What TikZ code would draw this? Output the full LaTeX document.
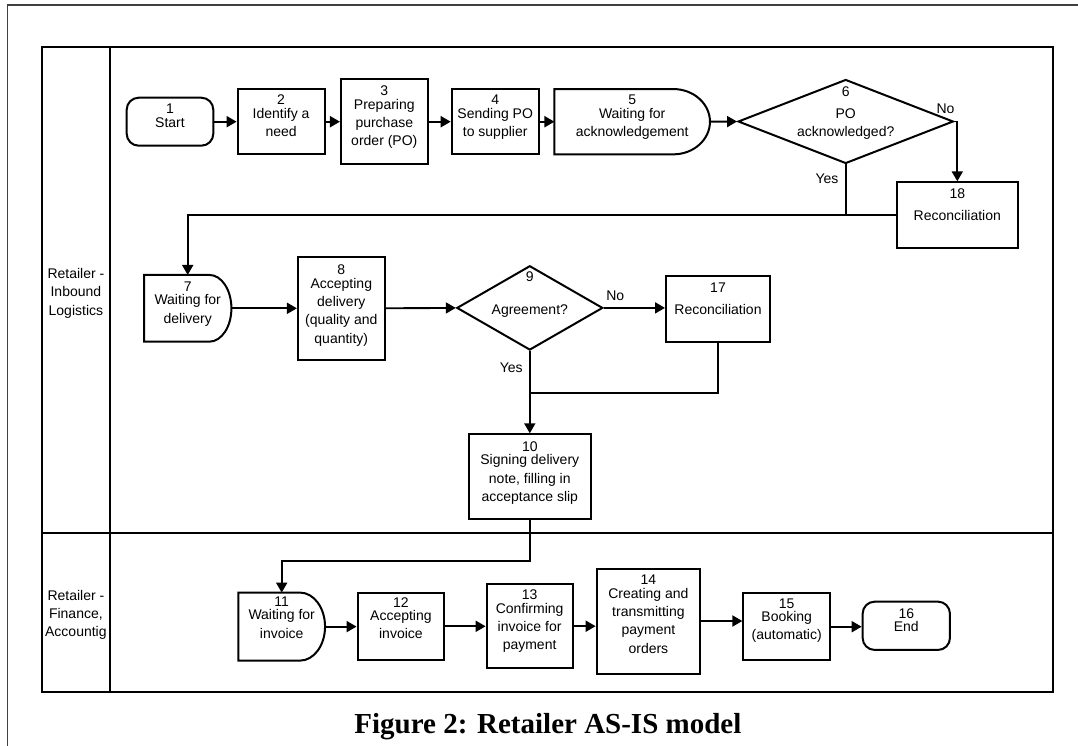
\documentclass[tikz,border=0pt]{standalone}
\usepackage{fontspec}
\setmainfont{Liberation Sans}
\newfontfamily\captionserif{Liberation Serif}
\usetikzlibrary{arrows.meta,shapes.geometric,calc}

% "wait" (delay) outline: flat left side, elliptic right end
% #1 node, #2 horizontal radius, #3 vertical radius
\newcommand{\waitshape}[3]{%
  \draw[shapeline] (#1.south west) -- (#1.north west) -- ($(#1.north east)+(-#2,0)$)
    .. controls ($(#1.north east)+({-0.4477*#2},0)$) and ($(#1.east)+(0,{-0.5523*#3})$) .. (#1.east)
    .. controls ($(#1.east)+(0,{0.5523*#3})$) and ($(#1.south east)+({-0.4477*#2},0)$) .. ($(#1.south east)+(-#2,0)$)
    -- cycle;}

\tikzset{
  every node/.style={inner sep=0pt, outer sep=1pt},
  txt/.style={font=\fontsize{14pt}{18.3pt}\selectfont, align=center},
  shapeline/.style={draw, line width=2pt},
  procbox/.style={txt, shapeline, rectangle},
  termbox/.style={txt, shapeline, rectangle, rounded corners=12pt},
  waitbox/.style={txt, rectangle, outer sep=0pt},
  decision/.style={shapeline, diamond},
  lbl/.style={font=\fontsize{14pt}{18.3pt}\selectfont, anchor=base},
  line/.style={draw, line width=1.9pt},
  conn/.style={line, -{Triangle[length=10pt,width=11pt]}},
  lane/.style={draw, line width=2pt},
}

\begin{document}
\begin{tikzpicture}[x=1pt, y=-1pt]
\useasboundingbox (0,0) rectangle (1078,746);
\fill[white] (0,0) rectangle (1078,746);

% page frame
\draw[line width=1.3pt, black!75] (7.3,746) -- (7.3,5) -- (1078,5);

% swimlanes
\draw[lane] (41.7,47) rectangle (1053.3,691.5);
\draw[lane] (110,47) -- (110,691.5);
\draw[lane] (41.7,532.5) -- (1053.3,532.5);
\node[txt] (lane1) at (75.9,293.1) {Retailer -\\Inbound\\Logistics};
\node[txt] (lane2) at (75.9,614.7) {Retailer -\\Finance,\\Accountig};

% inbound logistics lane
\node[termbox, minimum width=86.6pt, minimum height=48pt, text depth=12.1pt] (n1) at (170,121.7) {1\\[-5pt]Start};
\node[procbox, minimum width=87pt, minimum height=65.3pt, text depth=11.6pt] (n2) at (281.1,121.7) {2\\[-5pt]Identify a\\need};
\node[procbox, minimum width=86.7pt, minimum height=85.3pt, text depth=11.3pt] (n3) at (384.3,121.7) {3\\[-5pt]Preparing\\purchase\\order (PO)};
\node[procbox, minimum width=87pt, minimum height=65.3pt, text depth=11.6pt] (n4) at (495.2,121.7) {4\\[-5pt]Sending PO\\to supplier};
\node[waitbox, minimum width=155.5pt, minimum height=65.3pt, text depth=11.6pt] (n5) at (632.2,121.7) {5\\[-5pt]Waiting for\\acknowledgement};
\waitshape{n5}{36.7}{32.65}
\node[decision, minimum width=215.3pt, minimum height=84pt] (d6) at (845.7,121.5) {};
\node[txt, text depth=19.5pt] (t6) at (d6) {6\\[3.3pt]PO\\acknowledged?};
\node[procbox, minimum width=120.7pt, minimum height=66pt, text depth=21.2pt] (n18) at (957.3,215.3) {18\\[3.7pt]Reconciliation};

\node[waitbox, minimum width=87.4pt, minimum height=66.7pt, text depth=11.6pt] (n7) at (187.7,308.3) {7\\[-5pt]Waiting for\\delivery};
\waitshape{n7}{22}{33.35}
\node[procbox, minimum width=86.8pt, minimum height=103.3pt, text depth=8.2pt] (n8) at (341.3,308.3) {8\\[-5pt]Accepting\\delivery\\(quality and\\quantity)};
\node[decision, minimum width=146pt, minimum height=84.3pt] (d9) at (529.8,307.9) {};
\node[txt, text depth=29.1pt] (t9) at (d9) {9\\[15pt]Agreement?};
\node[procbox, minimum width=104pt, minimum height=66pt, text depth=19.4pt] (n17) at (718,308.7) {17\\[3.7pt]Reconciliation};
\node[procbox, minimum width=121.4pt, minimum height=85pt, text depth=10.1pt] (n10) at (529.8,476.8) {10\\[-5pt]Signing delivery\\note, filling in\\acceptance slip};

% finance lane
\node[waitbox, minimum width=86.7pt, minimum height=68pt, text depth=18.4pt] (n11) at (281.7,626.6) {11\\[-5pt]Waiting for\\invoice};
\waitshape{n11}{25}{34}
\node[procbox, minimum width=86.7pt, minimum height=66.6pt, text depth=16.6pt] (n12) at (400.9,626.3) {12\\[-5pt]Accepting\\invoice};
\node[procbox, minimum width=86pt, minimum height=84.3pt, text depth=12.3pt] (n13) at (529.6,626.2) {13\\[-5pt]Confirming\\invoice for\\payment};
\node[procbox, minimum width=103.5pt, minimum height=105pt, text depth=13.6pt] (n14) at (648.4,621) {14\\[-5pt]Creating and\\transmitting\\payment\\orders};
\node[procbox, minimum width=86.7pt, minimum height=66.7pt, text depth=15pt] (n15) at (786.7,626.7) {15\\[-5pt]Booking\\(automatic)};
\node[termbox, minimum width=87.3pt, minimum height=48.3pt, text depth=11.5pt] (n16) at (906.3,625.8) {16\\[-5pt]End};

% connectors, first row
\draw[conn] (n1.east) -- (n2.west);
\draw[conn] (n2.east) -- (n3.west);
\draw[conn] (n3.east) -- (n4.west);
\draw[conn] (n4.east) -- (n5.west);
\draw[conn] (n5.east) -- (d6.west);
\draw[conn] (d6.east) -| (n18.north);
\draw[conn] (d6.south) -- (d6.south |- n18.west) -| (n7.north);
\draw[line] (n18.west) -- (d6.south |- n18.west);
\node[lbl] (no6) at (945.5,113.3) {No};
\node[lbl] (yes6) at (827,184) {Yes};

% connectors, second row
\draw[conn] (n7.east) -- (n8.west);
\draw[conn] (n8.east) -- (d9.west);
\draw[conn] (d9.east) -- (d9.east -| n17.west);
\draw[conn] (d9.south) -- (n10.north);
\coordinate (j17) at (529.8,392.7);
\draw[line] (n17.south) |- (j17);
\node[lbl] (no9) at (615.3,300) {No};
\node[lbl] (yes9) at (511.3,372.2) {Yes};

% down to the finance lane
\coordinate (j10) at (0,560.7);
\draw[conn] (n10.south) -- (n10.south |- j10) -| (n11.north);
\draw[conn] (n11.east) -- (n11.east -| n12.west);
\draw[conn] (n12.east) -- (n12.east -| n13.west);
\draw[conn] (n13.east) -- (n13.east -| n14.west);
\draw[conn] (n14.east) -- (n14.east -| n15.west);
\draw[conn] (n15.east) -- (n15.east -| n16.west);

% caption
\node[font=\captionserif\bfseries\fontsize{29pt}{34pt}\selectfont, anchor=base] (cap) at (547.9,733) {Figure 2: Retailer AS-IS model};
\end{tikzpicture}
\end{document}
